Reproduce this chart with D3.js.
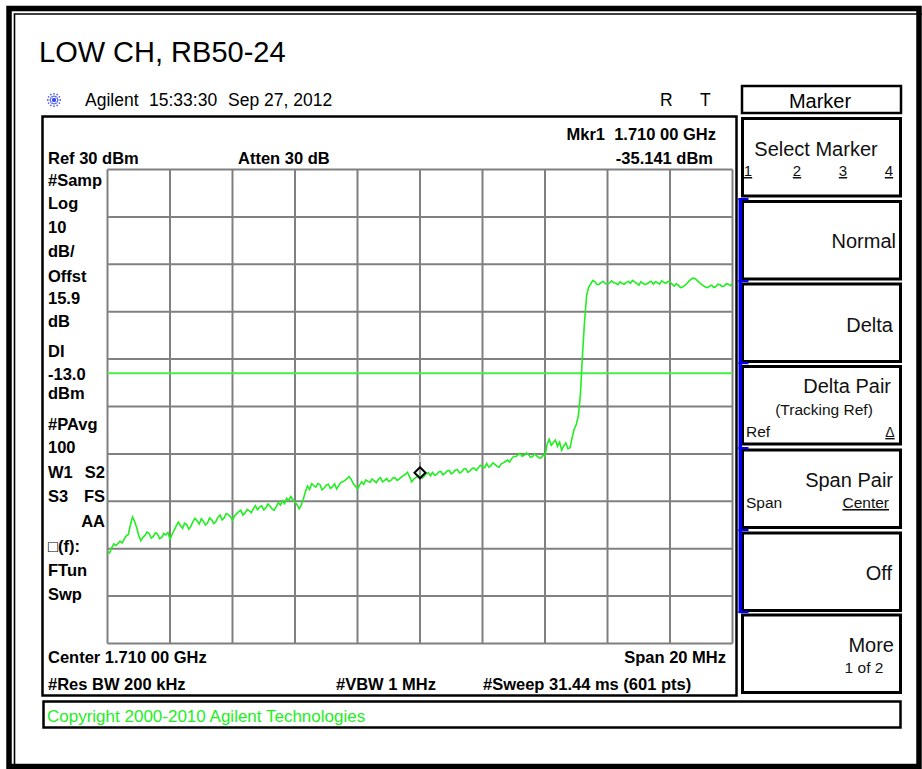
<!DOCTYPE html>
<html><head><meta charset="utf-8">
<script src="https://cdn.jsdelivr.net/npm/d3@7"></script>
<style>
html,body{margin:0;padding:0;background:#fff;}
svg{display:block;font-family:"Liberation Sans",Arial,sans-serif;}
</style></head>
<body><svg id="c" width="922" height="769"></svg>
<script>
// ---------- data ----------
const title = "LOW CH, RB50-24";
const startMHz = 1700, stopMHz = 1720;
const refLevel = 30, dbPerDiv = 10, numDivs = 10;
const displayLine = -13.0;
const markerFreqMHz = 1710;
const markerText = ["Mkr1  1.710 00 GHz", "-35.141 dBm"];
const gridFreqMHz = [1700,1702,1704,1706,1708,1710,1712,1714,1716,1718,1720];
const gridLevels = [30,20,10,0,-10,-20,-30,-40,-50,-60,-70];
// trace (dBm), 301 points equally spaced across the 20 MHz span
const traceDbm = [
-50.6,-50.9,-49.8,-49.0,-49.3,-48.9,-48.4,-48.8,-48.0,-47.3,
-47.0,-45.0,-43.3,-44.2,-45.5,-47.2,-48.3,-47.6,-47.2,-46.5,
-46.8,-47.8,-47.4,-46.6,-46.9,-47.9,-47.6,-46.8,-47.1,-46.6,
-48.0,-47.0,-46.1,-45.2,-44.4,-45.1,-45.7,-44.6,-44.9,-45.9,
-45.3,-44.3,-43.6,-44.1,-44.8,-43.7,-44.2,-45.0,-44.6,-43.5,
-43.9,-44.7,-44.3,-43.4,-42.9,-43.9,-43.5,-42.6,-42.8,-43.3,
-44.0,-43.1,-42.6,-42.2,-41.9,-42.9,-42.5,-41.7,-42.0,-42.4,
-41.6,-40.9,-41.8,-41.2,-40.9,-41.8,-41.4,-40.6,-41.0,-41.6,
-41.9,-41.1,-40.3,-40.8,-39.9,-40.5,-39.4,-39.8,-39.0,-39.6,
-40.2,-40.7,-41.6,-40.8,-39.5,-38.0,-36.8,-37.5,-36.3,-36.7,
-37.0,-36.2,-36.5,-37.6,-37.2,-36.6,-36.4,-37.3,-36.9,-36.3,
-37.4,-36.7,-36.0,-35.9,-35.6,-35.2,-34.8,-35.4,-36.3,-36.8,
-37.4,-36.6,-35.9,-36.4,-35.5,-35.8,-36.0,-35.3,-35.7,-36.1,
-35.4,-35.0,-35.9,-35.6,-35.2,-35.8,-35.6,-35.1,-35.0,-35.6,
-35.3,-34.9,-34.6,-34.3,-33.9,-34.8,-35.9,-35.3,-35.0,-34.7,
-34.4,-35.1,-34.7,-34.2,-34.0,-34.6,-33.9,-34.5,-34.3,-33.8,
-33.7,-34.4,-34.1,-33.6,-33.5,-34.2,-33.9,-33.4,-33.3,-34.0,
-33.8,-33.2,-33.1,-33.9,-33.6,-33.1,-33.0,-33.5,-32.9,-32.4,
-32.7,-32.9,-32.0,-32.8,-32.5,-31.9,-32.2,-32.6,-32.8,-32.1,
-31.9,-31.6,-31.3,-31.7,-31.0,-30.5,-30.6,-30.2,-29.9,-30.5,
-30.3,-29.8,-30.1,-30.7,-30.6,-30.0,-30.4,-30.8,-30.9,-30.3,
-30.5,-28.0,-26.9,-28.2,-27.6,-27.1,-28.4,-27.5,-29.2,-28.3,
-27.7,-28.9,-28.7,-26.6,-24.8,-23.8,-22.0,-17.5,-9.0,-2.0,
3.5,5.2,5.9,6.6,6.3,5.7,5.8,6.2,6.4,5.9,
5.9,6.1,6.5,6.1,6.0,5.7,6.3,6.0,5.8,6.2,
6.4,6.0,6.6,6.3,6.0,5.6,6.3,6.0,5.7,5.9,
6.2,6.4,5.8,6.3,6.1,5.8,6.5,6.2,6.0,6.4,
6.3,5.8,5.4,5.9,5.6,5.1,5.2,5.5,5.9,6.4,
6.8,7.1,7.0,6.6,6.2,5.8,5.5,5.2,5.1,5.4,
5.6,5.1,5.3,5.8,5.7,5.3,5.4,5.9,5.8,5.5,
6.0];
const leftAnnot = ["#Samp","Log","10","dB/","Offst","15.9","dB","DI","-13.0","dBm","#PAvg","100"];
const bottomAnnot = ["Center 1.710 00 GHz","Span 20 MHz","#Res BW 200 kHz","#VBW 1 MHz","#Sweep 31.44 ms (601 pts)"];
const softkeys = ["Select Marker","Normal","Delta","Delta Pair","Span Pair","Off","More"];

// ---------- drawing ----------
const svg = d3.select("#c");
const green = "#22ee22";
const x = d3.scaleLinear().domain([startMHz, stopMHz]).range([107.5, 732.5]);
const y = d3.scaleLinear().domain([refLevel - dbPerDiv*numDivs, refLevel]).range([643.5, 169.5]);

// outer frame
svg.append("rect").attr("x",9).attr("y",8.5).attr("width",910).attr("height",758).attr("fill","none").attr("stroke","#000").attr("stroke-width",5.5);
svg.append("path").attr("d","M14.5,769 V14 H922").attr("fill","none").attr("stroke","#000").attr("stroke-width",1.6);

// title
svg.append("text").attr("x",39).attr("y",62).attr("font-size",29).text(title);

// agilent logo
const logo = svg.append("g").attr("transform","translate(54,100)").attr("stroke","#3344ee").attr("stroke-width",1.3).attr("stroke-dasharray","1.5,1");
[0,30,60,90,120,150].forEach(a=>{
  const r=a*Math.PI/180;
  logo.append("line").attr("x1",-7*Math.cos(r)).attr("y1",-7*Math.sin(r)).attr("x2",7*Math.cos(r)).attr("y2",7*Math.sin(r));
});
const hdr = svg.append("g").attr("font-size",17.5);
hdr.append("text").attr("x",85).attr("y",106).text("Agilent");
hdr.append("text").attr("x",149).attr("y",106).text("15:33:30");
hdr.append("text").attr("x",228).attr("y",106).text("Sep 27, 2012");
hdr.append("text").attr("x",660).attr("y",106).text("R");
hdr.append("text").attr("x",700).attr("y",106).text("T");

// main display box
svg.append("rect").attr("x",42.5).attr("y",116.5).attr("width",694).attr("height",579).attr("fill","none").attr("stroke","#000").attr("stroke-width",2.5);

// grid
const grid = svg.append("g").attr("stroke","#808080").attr("stroke-width",2);
grid.selectAll("line.v").data(gridFreqMHz).join("line").attr("class","v")
  .attr("x1",d=>x(d)).attr("x2",d=>x(d)).attr("y1",y(refLevel)).attr("y2",y(refLevel-dbPerDiv*numDivs));
grid.selectAll("line.h").data(gridLevels).join("line").attr("class","h")
  .attr("y1",d=>y(d)).attr("y2",d=>y(d)).attr("x1",x(startMHz)).attr("x2",x(stopMHz));

// display line
svg.append("line").attr("x1",x(startMHz)).attr("x2",x(stopMHz)).attr("y1",y(displayLine)).attr("y2",y(displayLine))
  .attr("stroke","#44ee44").attr("stroke-width",2);

// trace
const n = traceDbm.length;
const fAt = i => startMHz + (stopMHz-startMHz)*i/(n-1);
const line = d3.line().x((d,i)=>x(fAt(i))).y(d=>y(d));
svg.append("path").datum(traceDbm).attr("d",line).attr("fill","none").attr("stroke",green).attr("stroke-width",1.6).attr("stroke-linejoin","miter");

// marker
const mi = Math.round((markerFreqMHz-startMHz)/(stopMHz-startMHz)*(n-1));
const mx = x(markerFreqMHz), my = y(traceDbm[mi]) - 2;
svg.append("path").attr("d",`M${mx},${my-5.5} L${mx+5.5},${my} L${mx},${my+5.5} L${mx-5.5},${my} Z`)
  .attr("fill","#fff").attr("fill-opacity",0.3).attr("stroke","#000").attr("stroke-width",2);
svg.append("text").attr("x",mx).attr("y",my-11).attr("text-anchor","middle").attr("font-size",10).attr("fill","#d8d8d8").text("1");

// annotations
const ann = svg.append("g").attr("font-weight","bold").attr("font-size",16.5).attr("fill","#000");
ann.append("text").attr("x",48).attr("y",164).text("Ref 30 dBm");
ann.append("text").attr("x",238).attr("y",164).text("Atten 30 dB");
ann.append("text").attr("x",716).attr("y",140).attr("text-anchor","end").style("white-space","pre").text(markerText[0]);
ann.append("text").attr("x",713).attr("y",164).attr("text-anchor","end").text(markerText[1]);
const leftY = [186,209,233,257,282,304,327,357,380,399,430,453];
ann.selectAll("text.la").data(leftAnnot).join("text").attr("class","la").attr("x",48).attr("y",(d,i)=>leftY[i]).text(d=>d);
ann.append("text").attr("x",48).attr("y",478).text("W1");
ann.append("text").attr("x",105).attr("y",478).attr("text-anchor","end").text("S2");
ann.append("text").attr("x",48).attr("y",502).text("S3");
ann.append("text").attr("x",105).attr("y",502).attr("text-anchor","end").text("FS");
ann.append("text").attr("x",105).attr("y",527).attr("text-anchor","end").text("AA");
ann.append("text").attr("x",48).attr("y",552).text("\u25A1(f):");
ann.append("text").attr("x",48).attr("y",576).text("FTun");
ann.append("text").attr("x",48).attr("y",600).text("Swp");
ann.append("text").attr("x",48).attr("y",663).text(bottomAnnot[0]);
ann.append("text").attr("x",726).attr("y",663).attr("text-anchor","end").text(bottomAnnot[1]);
ann.append("text").attr("x",48).attr("y",690).text(bottomAnnot[2]);
ann.append("text").attr("x",336).attr("y",690).text(bottomAnnot[3]);
ann.append("text").attr("x",483).attr("y",690).text(bottomAnnot[4]);

// copyright box
svg.append("rect").attr("x",43.5).attr("y",701.5).attr("width",857).attr("height",26).attr("fill","none").attr("stroke","#000").attr("stroke-width",2.5);
svg.append("text").attr("x",47).attr("y",722).attr("font-size",17).attr("fill","#22ee22").text("Copyright 2000-2010 Agilent Technologies");

// softkey panel
svg.append("rect").attr("x",742).attr("y",86).attr("width",159).attr("height",27).attr("fill","#fff").attr("stroke","#000").attr("stroke-width",2.5);
svg.append("text").attr("x",820).attr("y",108).attr("text-anchor","middle").attr("font-size",20).text("Marker");
const keyTops = [118.5,201.5,284,366.5,450,533,615];
svg.selectAll("rect.sk").data(softkeys).join("rect").attr("class","sk")
  .attr("x",742.5).attr("y",(d,i)=>keyTops[i]).attr("width",158).attr("height",77.5)
  .attr("fill","#fff").attr("stroke","#000").attr("stroke-width",3);
// blue bar
svg.append("rect").attr("x",738.5).attr("y",198).attr("width",3.5).attr("height",415).attr("fill","#0000ee");
[199,281,363,448,530,612].forEach(t=>svg.append("rect").attr("x",738.5).attr("y",t-1).attr("width",10).attr("height",2.2).attr("fill","#0000ee"));

const sk = svg.append("g").attr("font-size",20).attr("fill","#111");
sk.append("text").attr("x",816).attr("y",156).attr("text-anchor","middle").text("Select Marker");
const nums = sk.append("g").attr("font-size",15).attr("text-decoration","underline");
[[748,"1"],[797,"2"],[843,"3"],[889,"4"]].forEach(([px,t])=>nums.append("text").attr("x",px).attr("y",176).attr("text-anchor","middle").text(t));
sk.append("text").attr("x",896).attr("y",248).attr("text-anchor","end").text("Normal");
sk.append("text").attr("x",893).attr("y",332).attr("text-anchor","end").text("Delta");
sk.append("text").attr("x",891).attr("y",393).attr("text-anchor","end").text("Delta Pair");
sk.append("text").attr("x",824).attr("y",415).attr("text-anchor","middle").attr("font-size",15.5).text("(Tracking Ref)");
sk.append("text").attr("x",746).attr("y",437).attr("font-size",15.5).text("Ref");
sk.append("text").attr("x",890).attr("y",437).attr("text-anchor","middle").attr("font-size",14).attr("text-decoration","underline").text("\u0394");
sk.append("text").attr("x",893).attr("y",487).attr("text-anchor","end").text("Span Pair");
sk.append("text").attr("x",746).attr("y",508).attr("font-size",15.5).text("Span");
sk.append("text").attr("x",889).attr("y",508).attr("text-anchor","end").attr("font-size",15.5).attr("text-decoration","underline").text("Center");
sk.append("text").attr("x",892).attr("y",580).attr("text-anchor","end").text("Off");
sk.append("text").attr("x",894).attr("y",652).attr("text-anchor","end").text("More");
sk.append("text").attr("x",864).attr("y",673).attr("text-anchor","middle").attr("font-size",15.5).text("1 of 2");
</script></body></html>
